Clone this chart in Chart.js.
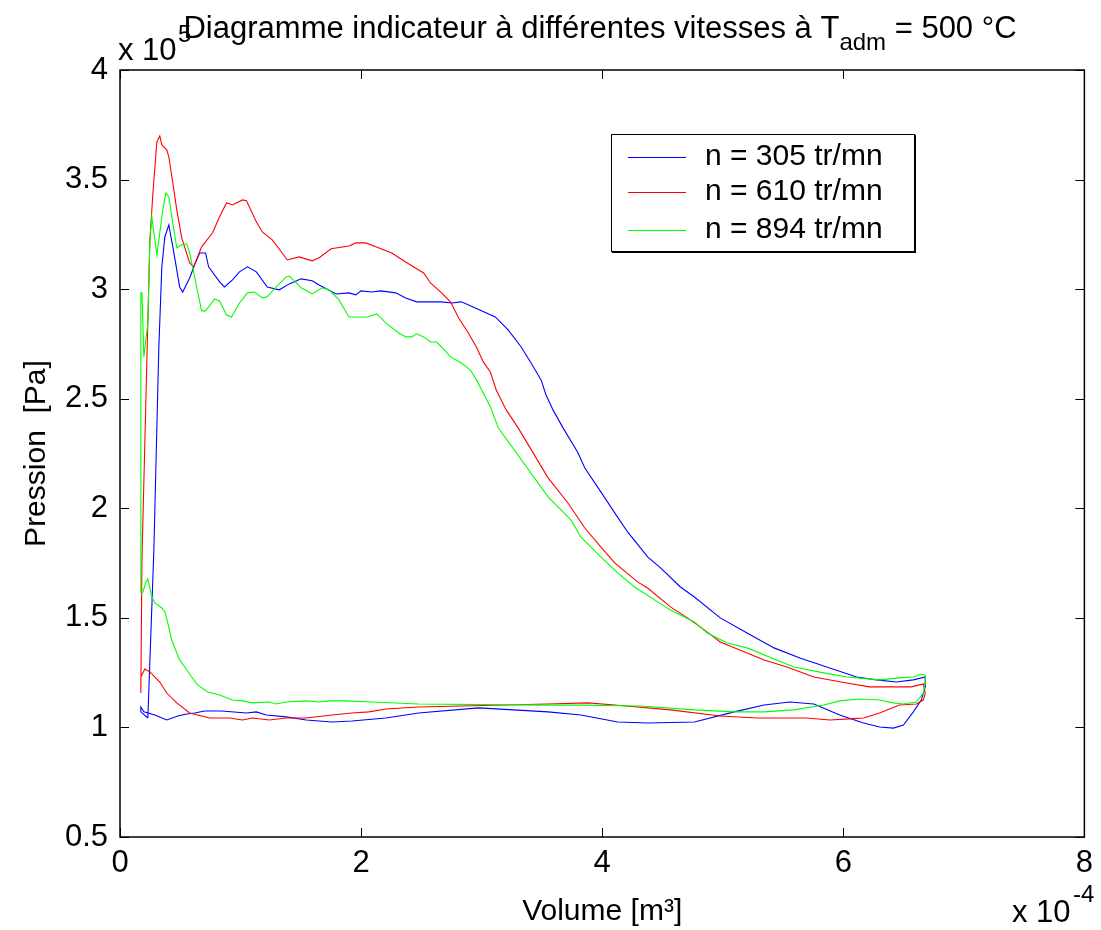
<!DOCTYPE html>
<html>
<head>
<meta charset="utf-8">
<script src="https://cdn.jsdelivr.net/npm/chart.js@4.4.1/dist/chart.umd.min.js"></script>
<style>
  body { margin: 0; background: #fff; }
  #wrap { width: 1101px; height: 930px; }
</style>
</head>
<body>
<div id="wrap"><canvas id="diag" width="1101" height="930"></canvas></div>
<script>
const vol305 = [0.231,0.281,0.322,0.347,0.372,0.405,0.438,0.471,0.495,0.520,
  0.578,0.619,0.661,0.710,0.735,0.826,0.867,0.933,0.991,1.057,
  1.131,1.222,1.321,1.404,1.503,1.594,1.652,1.792,1.899,1.957,
  1.998,2.089,2.164,2.287,2.370,2.461,2.667,2.750,2.832,2.948,
  3.113,3.220,3.328,3.410,3.493,3.534,3.592,3.675,3.799,3.856,
  3.989,4.104,4.211,4.377,4.484,4.649,4.765,4.979,5.202,5.425,
  5.640,5.888,6.111,6.276,6.441,6.581,6.680,6.680,6.647,6.581,
  6.499,6.416,6.301,6.168,5.970,5.756,5.557,5.343,5.095,4.765,
  4.377,4.129,3.823,3.551,2.973,2.477,2.205,1.924,1.759,1.544,
  1.379,1.214,1.131,1.049,0.842,0.702,0.619,0.553,0.479,0.388,
  0.289,0.198,0.173,0.173,0.231]
const pres305 = [1.043,1.810,2.732,3.102,3.238,3.293,3.193,3.088,3.010,2.987,
  3.051,3.111,3.165,3.165,3.102,3.033,3.010,3.042,3.079,3.102,
  3.079,3.010,2.997,3.024,3.047,3.038,3.019,2.978,2.983,2.974,
  2.992,2.987,2.992,2.983,2.960,2.942,2.942,2.937,2.942,2.914,
  2.873,2.814,2.736,2.663,2.586,2.517,2.449,2.367,2.253,2.184,
  2.075,1.979,1.892,1.778,1.728,1.641,1.595,1.500,1.431,1.363,
  1.317,1.271,1.230,1.217,1.207,1.217,1.230,1.185,1.125,1.071,
  1.011,0.997,1.002,1.020,1.057,1.107,1.116,1.102,1.071,1.025,
  1.020,1.025,1.057,1.071,1.089,1.066,1.043,1.029,1.025,1.034,
  1.048,1.057,1.071,1.066,1.075,1.075,1.066,1.061,1.052,1.034,
  1.057,1.071,1.093,1.071,1.043]

const vol610 = [0.173,0.182,0.223,0.248,0.273,0.306,0.330,0.347,0.388,0.405,
  0.438,0.471,0.512,0.578,0.611,0.677,0.768,0.826,0.884,0.933,
  1.016,1.049,1.131,1.181,1.263,1.346,1.387,1.486,1.594,1.652,
  1.751,1.899,1.957,2.040,2.122,2.254,2.370,2.519,2.576,2.667,
  2.742,2.808,2.890,2.956,3.014,3.072,3.121,3.204,3.303,3.551,
  3.716,3.856,3.988,4.104,4.294,4.377,4.566,4.707,4.847,4.979,
  5.202,5.343,5.533,5.756,6.028,6.218,6.565,6.664,6.680,6.664,
  6.606,6.466,6.301,6.168,6.053,5.888,5.698,5.285,4.979,4.566,
  4.104,3.881,3.551,2.477,2.205,2.064,1.924,1.759,1.544,1.379,
  1.239,1.098,1.016,0.908,0.743,0.578,0.471,0.388,0.330,0.248,
  0.206,0.173,0.173]
const pres610 = [1.157,1.764,2.677,3.225,3.439,3.672,3.699,3.658,3.636,3.604,
  3.485,3.362,3.234,3.120,3.102,3.193,3.257,3.330,3.394,3.384,
  3.407,3.403,3.307,3.261,3.225,3.165,3.133,3.147,3.129,3.143,
  3.184,3.197,3.211,3.211,3.193,3.165,3.124,3.074,3.028,2.983,
  2.942,2.869,2.800,2.736,2.668,2.622,2.540,2.449,2.367,2.139,
  2.024,1.910,1.824,1.751,1.664,1.636,1.550,1.500,1.445,1.390,
  1.340,1.308,1.276,1.230,1.203,1.185,1.185,1.198,1.157,1.125,
  1.107,1.102,1.066,1.043,1.039,1.034,1.043,1.043,1.052,1.080,
  1.102,1.112,1.107,1.093,1.084,1.071,1.066,1.057,1.043,1.043,
  1.034,1.043,1.034,1.043,1.043,1.066,1.112,1.157,1.207,1.253,
  1.267,1.230,1.157]

const vol894 = [0.173,0.173,0.182,0.198,0.231,0.248,0.264,0.306,0.330,0.355,
  0.380,0.405,0.438,0.471,0.512,0.553,0.578,0.619,0.677,0.710,
  0.784,0.826,0.884,0.925,0.991,1.057,1.115,1.181,1.222,1.296,
  1.379,1.404,1.503,1.594,1.676,1.734,1.817,1.899,1.982,2.048,
  2.130,2.205,2.312,2.370,2.419,2.461,2.519,2.576,2.626,2.667,
  2.742,2.832,2.907,2.956,3.014,3.072,3.138,3.551,3.633,3.741,
  3.823,3.988,4.129,4.269,4.434,4.566,4.765,4.872,5.037,5.202,
  5.425,5.590,5.838,6.028,6.301,6.466,6.581,6.647,6.680,6.680,
  6.664,6.606,6.499,6.416,6.301,6.135,5.970,5.838,5.590,5.343,
  5.095,4.765,4.319,3.823,3.551,2.477,2.089,1.874,1.734,1.652,
  1.544,1.379,1.296,1.239,1.098,1.016,0.933,0.826,0.727,0.644,
  0.595,0.537,0.495,0.471,0.429,0.396,0.372,0.347,0.289,0.264,
  0.231,0.215,0.190,0.173]
const pres894 = [1.614,2.983,2.983,2.691,2.846,3.225,3.330,3.156,3.257,3.362,
  3.439,3.421,3.302,3.188,3.202,3.207,3.165,3.056,2.901,2.901,
  2.955,2.946,2.882,2.873,2.937,2.983,2.987,2.960,2.965,3.010,
  3.056,3.060,3.006,2.978,3.006,2.997,2.951,2.873,2.873,2.873,
  2.887,2.846,2.800,2.782,2.782,2.796,2.782,2.759,2.759,2.736,
  2.691,2.663,2.631,2.586,2.526,2.463,2.367,2.052,2.006,1.947,
  1.869,1.778,1.705,1.641,1.582,1.536,1.481,1.431,1.385,1.363,
  1.312,1.276,1.249,1.230,1.217,1.226,1.230,1.244,1.239,1.207,
  1.157,1.116,1.107,1.112,1.125,1.130,1.121,1.102,1.080,1.071,
  1.071,1.080,1.098,1.102,1.102,1.107,1.116,1.121,1.121,1.116,
  1.121,1.116,1.107,1.116,1.112,1.121,1.125,1.148,1.162,1.194,
  1.230,1.276,1.308,1.340,1.399,1.477,1.527,1.545,1.568,1.595,
  1.678,1.664,1.618,1.614]

const seriesNames = ['n = 305 tr/mn', 'n = 610 tr/mn', 'n = 894 tr/mn']
const seriesColors = ['#0000FF', '#FF0000', '#00FF00']
const xTicks = [0, 2, 4, 6, 8]
const xTickLabels = ['0', '2', '4', '6', '8']
const yTicks = [0.5, 1, 1.5, 2, 2.5, 3, 3.5, 4]
const yTickLabels = ['0.5', '1', '1.5', '2', '2.5', '3', '3.5', '4']

const FONT = "'Liberation Sans', Arial, sans-serif"
Chart.defaults.font.family = FONT
Chart.defaults.color = '#000'

function pts(vx, vy) {
  return vx.map((v, i) => ({x: v, y: vy[i]}))
}

//cadre, graduations internes, legende, titre et exposants
const decor = {
  id: 'decor',
  afterDatasetsDraw(chart) {
    const {ctx, chartArea: a, scales: {x, y}} = chart
    ctx.save()
    ctx.strokeStyle = '#000'
    ctx.lineWidth = 1
    xTicks.forEach(v => {
      const px = Math.round(x.getPixelForValue(v)) + 0.5
      ctx.beginPath()
      ctx.moveTo(px, a.bottom); ctx.lineTo(px, a.bottom - 9)
      ctx.moveTo(px, a.top); ctx.lineTo(px, a.top + 9)
      ctx.stroke()
    })
    yTicks.forEach(v => {
      const py = Math.round(y.getPixelForValue(v)) + 0.5
      ctx.beginPath()
      ctx.moveTo(a.left, py); ctx.lineTo(a.left + 9, py)
      ctx.moveTo(a.right, py); ctx.lineTo(a.right - 9, py)
      ctx.stroke()
    })
    ctx.lineWidth = 1.5
    ctx.strokeRect(a.left, a.top, a.right - a.left, a.bottom - a.top)

    // legende
    const lx = 611, ly = 134, lw = 303, lh = 117
    ctx.fillStyle = '#fff'
    ctx.fillRect(lx, ly, lw, lh)
    ctx.lineWidth = 1
    ctx.strokeRect(lx + 0.5, ly + 0.5, lw, lh)
    ctx.lineWidth = 2
    ctx.beginPath()
    ctx.moveTo(lx + 1, ly + lh + 1); ctx.lineTo(lx + lw + 1, ly + lh + 1); ctx.lineTo(lx + lw + 1, ly + 1)
    ctx.stroke()
    const rows = [157, 192, 230]
    ctx.font = '30px ' + FONT
    ctx.textBaseline = 'middle'
    ctx.textAlign = 'left'
    seriesNames.forEach((name, i) => {
      ctx.strokeStyle = seriesColors[i]
      ctx.lineWidth = 1
      ctx.beginPath()
      ctx.moveTo(628, rows[i] + 0.5); ctx.lineTo(686, rows[i] + 0.5)
      ctx.stroke()
      ctx.fillStyle = '#000'
      ctx.fillText(name, 705, rows[i])
    })
    ctx.restore()
  },
  afterDraw(chart) {
    const {ctx} = chart
    ctx.save()
    ctx.fillStyle = '#000'
    ctx.textBaseline = 'alphabetic'
    ctx.textAlign = 'left'
    // titre avec indice
    const big = '31px ' + FONT, small = '24px ' + FONT
    const t1 = 'Diagramme indicateur à différentes vitesses à T'
    const t2 = 'adm'
    const t3 = ' = 500 °C'
    ctx.font = big
    const w1 = ctx.measureText(t1).width, w3 = ctx.measureText(t3).width
    ctx.font = small
    const w2 = ctx.measureText(t2).width
    let tx = 600 - (w1 + w2 + w3) / 2
    ctx.font = big
    ctx.fillText(t1, tx, 38)
    ctx.font = small
    ctx.fillText(t2, tx + w1, 50)
    ctx.font = big
    ctx.fillText(t3, tx + w1 + w2, 38)
    // exposants des axes
    ctx.font = big
    ctx.fillText('x 10', 118, 60)
    ctx.font = small
    ctx.fillText('5', 178, 42)
    ctx.font = big
    ctx.fillText('x 10', 1012, 922)
    ctx.font = small
    ctx.fillText('-4', 1073, 902)
    ctx.restore()
  }
}

new Chart(document.getElementById('diag'), {
  type: 'scatter',
  data: {
    datasets: [
      { label: seriesNames[0], data: pts(vol305, pres305), borderColor: seriesColors[0], order: 2 },
      { label: seriesNames[1], data: pts(vol610, pres610), borderColor: seriesColors[1], order: 1 },
      { label: seriesNames[2], data: pts(vol894, pres894), borderColor: seriesColors[2], order: 0 },
    ]
  },
  options: {
    responsive: false,
    animation: false,
    devicePixelRatio: 1,
    showLine: true,
    layout: { padding: { top: 70, right: 12, left: 0, bottom: 0 } },
    elements: {
      point: { radius: 0, hoverRadius: 0 },
      line: { borderWidth: 1.1, tension: 0, fill: false }
    },
    plugins: {
      legend: { display: false },
      tooltip: { enabled: false }
    },
    scales: {
      x: {
        type: 'linear',
        min: 0,
        max: 8,
        afterBuildTicks: s => { s.ticks = xTicks.map(v => ({value: v})) },
        afterFit: s => { s.height = 93 },
        grid: { display: false, drawTicks: false },
        border: { display: false },
        ticks: { padding: 8, maxRotation: 0, font: { size: 31 },
          callback: (v, i) => xTickLabels[i] },
        title: { display: true, text: 'Volume [m³]', font: { size: 30 }, padding: { top: 0, bottom: 0 } }
      },
      y: {
        type: 'linear',
        min: 0.5,
        max: 4,
        afterBuildTicks: s => { s.ticks = yTicks.map(v => ({value: v})) },
        afterFit: s => { s.width = 120 },
        grid: { display: false, drawTicks: false },
        border: { display: false },
        ticks: { padding: 12, font: { size: 31 },
          callback: (v, i) => yTickLabels[i] },
        title: { display: true, text: 'Pression  [Pa]', font: { size: 30 }, padding: { top: 19, bottom: 0 } }
      }
    }
  },
  plugins: [decor]
})
</script>
</body>
</html>
